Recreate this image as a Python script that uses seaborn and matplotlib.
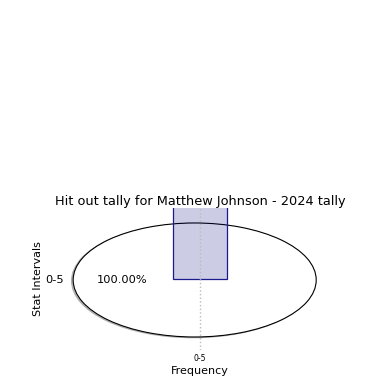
import matplotlib
matplotlib.use('Agg')
import matplotlib.pyplot as plt
import seaborn as sns
import pandas as pd

# chart data
player = 'Matthew Johnson'
season = 2024
stat_name = 'Hit out'
intervals = ['0-5']
frequency = [3]
shares = [100.0]

df = pd.DataFrame({'interval': intervals, 'frequency': frequency})

sns.set_style('white')
plt.rcParams['font.family'] = ['DejaVu Sans']
plt.rcParams['text.color'] = 'black'
plt.rcParams['axes.labelcolor'] = 'black'
plt.rcParams['xtick.color'] = 'black'

fig = plt.figure(figsize=(3.9, 3.9), dpi=100)

# pie sits in its own axes, stretched to the axes box
ax_pie = fig.add_axes([0.1097, 0.0994, 0.779, 0.3654])
ax_pie.pie(shares, labels=intervals, autopct='%1.2f%%', labeldistance=1.08,
           shadow={'ox': -0.01, 'oy': -0.01, 'shade': 0.5},
           colors=['white'], wedgeprops={'edgecolor': 'black', 'linewidth': 0.8},
           textprops={'fontsize': 8.2, 'color': 'black'})
ax_pie.set_aspect('auto')
ax_pie.set_xlim(-1.25, 1.25)
ax_pie.set_ylim(-1.25, 1.25)

# bar axes overlaid on top
ax_bar = fig.add_axes([0.125, 0.1026, 0.775, 0.3641])
ax_bar.patch.set_alpha(0)
sns.barplot(data=df, x='interval', y='frequency', ax=ax_bar, width=0.8)
for p in ax_bar.patches:
    p.set_facecolor((0, 0, 0.5, 0.2))
    p.set_edgecolor('#1a1a8c')
    p.set_linewidth(0.9)
ax_bar.set_xlim(-2.24, 2.24)
ax_bar.set_ylim(-2, 2)
ax_bar.set_yticks([])
ax_bar.tick_params(axis='x', length=0, labelsize=5.5, pad=3)
ax_bar.grid(axis='x', linestyle=':', color='#bbbbbb', linewidth=1.0)
ax_bar.set_axisbelow(False)
for s in ax_bar.spines.values():
    s.set_visible(False)
ax_bar.set_title(f'{stat_name} tally for {player} - {season} tally', fontsize=9.3, pad=2.5)
ax_bar.set_xlabel('Frequency', fontsize=8, labelpad=2)
ax_bar.set_ylabel('Stat Intervals', fontsize=8)

fig.savefig('out.png', dpi=100)
